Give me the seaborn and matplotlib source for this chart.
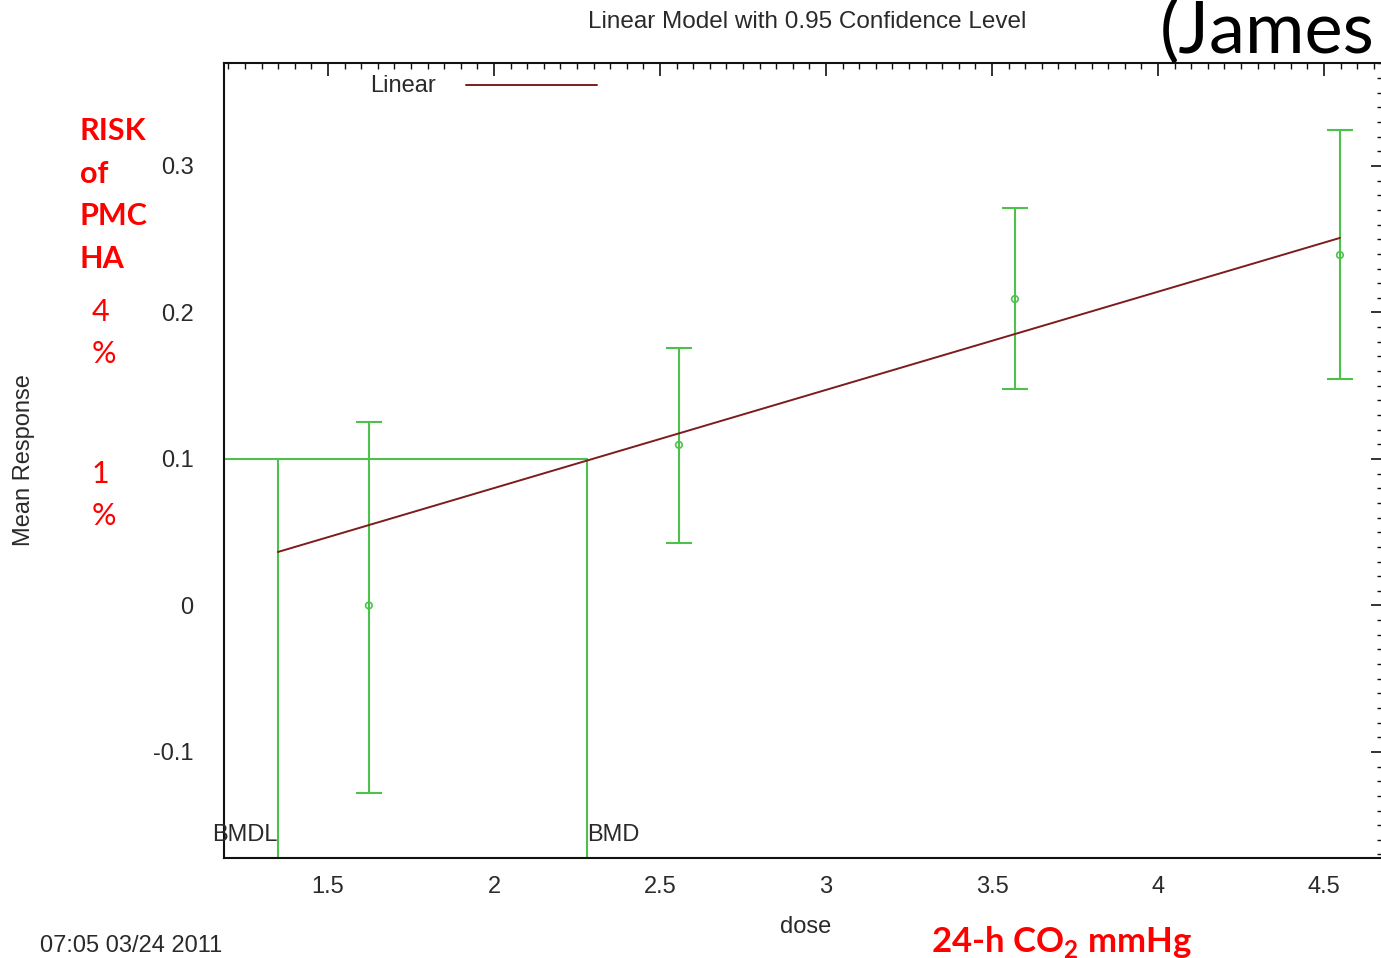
import matplotlib
matplotlib.use("Agg")
import matplotlib.pyplot as plt
import seaborn as sns
import pandas as pd
from matplotlib.ticker import MultipleLocator

# ---- data ----
doses = [1.623, 2.557, 3.569, 4.548]
means = [0.0, 0.1096, 0.2092, 0.2392]
ci_low = [-0.128, 0.0427, 0.1478, 0.1546]
ci_high = [0.1253, 0.1758, 0.2713, 0.3246]
fit_x = [1.349, 4.548]
fit_y = [0.0365, 0.2509]
bmr = 0.1
bmd = 2.28
bmdl = 1.349
x_ticks = [1.5, 2, 2.5, 3, 3.5, 4, 4.5]
x_tick_labels = ["1.5", "2", "2.5", "3", "3.5", "4", "4.5"]
y_ticks = [-0.1, 0, 0.1, 0.2, 0.3]
y_tick_labels = ["-0.1", "0", "0.1", "0.2", "0.3"]

sns.set_style("white")
plt.rcParams["font.family"] = ["Liberation Sans", "DejaVu Sans"]
plt.rcParams["mathtext.fontset"] = "custom"
plt.rcParams["mathtext.rm"] = "Lato:bold"
plt.rcParams["mathtext.bf"] = "Lato:bold"

W, H = 1381, 958
fig = plt.figure(figsize=(W / 100, H / 100), dpi=100)
fig.patch.set_facecolor("white")
L, R, T, B = 224, 1383, 63, 858
ax = fig.add_axes([L / W, (H - B) / H, (R - L) / W, (B - T) / H])

GREEN = "#4cc24c"
RED_LINE = "#7d1c1c"
TXT = "#2a2a2a"
FS = 17

df_fit = pd.DataFrame({"dose": fit_x, "resp": fit_y})
sns.lineplot(data=df_fit, x="dose", y="resp", ax=ax, color=RED_LINE, lw=1.4, zorder=4)

ax.errorbar(doses, means,
            yerr=[[m - lo for m, lo in zip(means, ci_low)], [hi - m for m, hi in zip(means, ci_high)]],
            fmt="none", ecolor=GREEN, elinewidth=1.5, capsize=9.4, capthick=1.5, zorder=3)
df_pts = pd.DataFrame({"dose": doses, "mean": means})
sns.scatterplot(data=df_pts, x="dose", y="mean", ax=ax, marker="o", s=22,
                facecolor="none", edgecolor=GREEN, linewidth=1.2, zorder=5)

xmin, xmax = 1.1867, 4.6777
ymin, ymax = -0.1724, 0.3703
ax.set_xlim(xmin, xmax)
ax.set_ylim(ymin, ymax)

# BMD lines
ax.plot([xmin, bmd], [bmr, bmr], color=GREEN, lw=1.5, zorder=2)
ax.plot([bmdl, bmdl], [ymin, bmr], color=GREEN, lw=1.5, zorder=2)
ax.plot([bmd, bmd], [ymin, bmr], color=GREEN, lw=1.5, zorder=2)
ax.text(bmdl, ymin + 0.008, "BMDL", ha="right", va="bottom", fontsize=FS, color=TXT, zorder=6)
ax.text(bmd, ymin + 0.008, "BMD", ha="left", va="bottom", fontsize=FS, color=TXT, zorder=6)

# axes styling (gnuplot-like)
for s in ax.spines.values():
    s.set_color("#111111")
    s.set_linewidth(1.5)
ax.set_xticks(x_ticks)
ax.set_xticklabels(x_tick_labels)
ax.set_yticks(y_ticks)
ax.set_yticklabels(y_tick_labels)
ax.xaxis.set_minor_locator(MultipleLocator(0.05))
ax.yaxis.set_minor_locator(MultipleLocator(0.01))
ax.tick_params(which="major", direction="in", length=9, width=1.2, top=True, right=True,
               labelsize=FS, colors="#111111")
ax.tick_params(which="minor", direction="in", length=4, width=1, top=True, right=True,
               colors="#111111")
ax.tick_params(axis="x", which="major", pad=13, labelcolor=TXT)
ax.tick_params(axis="y", which="major", pad=22, labelcolor=TXT)
ax.set_xlabel("")
ax.set_ylabel("")

# legend
fig.text(436 / W, 1 - 86 / H, "Linear", ha="right", va="center", fontsize=FS, color=TXT)
fig.add_artist(plt.Line2D([466 / W, 597 / W], [1 - 85 / H, 1 - 85 / H], color=RED_LINE, lw=1.4))

# titles / labels
fig.text(807 / W, 1 - 22 / H, "Linear Model with 0.95 Confidence Level", ha="center", va="center",
         fontsize=FS + 0.5, color=TXT)
fig.text(24 / W, 1 - 460 / H, "Mean Response", rotation=90, ha="center", va="center",
         fontsize=FS, color=TXT)
fig.text(806 / W, 1 - 927 / H, "dose", ha="center", va="center", fontsize=FS, color=TXT)
fig.text(40 / W, 1 - 952 / H, "07:05 03/24 2011", ha="left", va="baseline", fontsize=FS, color=TXT)

# slide annotations
RED = "#ff0000"
for label, y in [("RISK", 131), ("of", 174), ("PMC", 216), ("HA", 259)]:
    fig.text(80 / W, 1 - y / H, label, ha="left", va="center", fontsize=22, fontweight="bold",
             color=RED, family=["Lato", "DejaVu Sans"])
for label, y in [("4", 312), ("%", 354), ("1", 474), ("%", 516)]:
    fig.text(92 / W, 1 - y / H, label, ha="left", va="center", fontsize=22,
             color=RED, family=["Lato", "DejaVu Sans"])
fig.text(1375 / W, 1 - 32 / H, "(James", ha="right", va="center", fontsize=52,
         color="black", family=["Lato", "DejaVu Sans"])
fig.text(931 / W, 1 - 952 / H, r"24-h CO$_{\mathbf{2}}$ mmHg", ha="left", va="baseline", fontsize=25,
         fontweight="bold", color=RED, family=["Lato", "DejaVu Sans"])

fig.savefig("out.png", dpi=100)
